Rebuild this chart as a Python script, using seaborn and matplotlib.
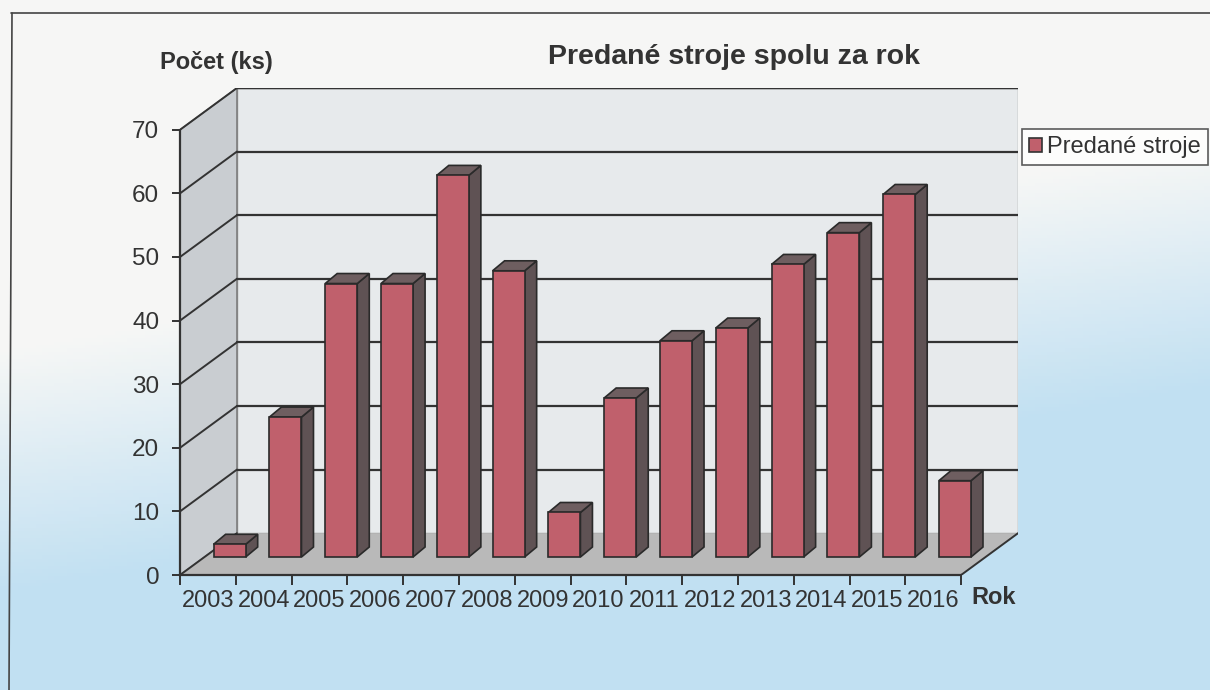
import numpy as np
import pandas as pd
import matplotlib
matplotlib.use("Agg")
import matplotlib.pyplot as plt
from matplotlib.patches import Polygon, Patch
import seaborn as sns

# data
roky = ["2003", "2004", "2005", "2006", "2007", "2008", "2009",
        "2010", "2011", "2012", "2013", "2014", "2015", "2016"]
pocet = [2, 22, 43, 43, 60, 45, 7, 25, 34, 36, 46, 51, 57, 12]
y_ticks = [0, 10, 20, 30, 40, 50, 60, 70]

df = pd.DataFrame({"rok": roky, "pocet": pocet})

sns.set_style("white")
plt.rcParams["font.family"] = ["Liberation Sans", "DejaVu Sans"]

W, H = 1210, 690
fig = plt.figure(figsize=(W / 100, H / 100), dpi=100)

# scanned page background: white fading to light blue
bg = fig.add_axes([0, 0, 1, 1], zorder=-10)
yy, xx = np.mgrid[0:1:200j, 0:1:200j]
w = np.clip((yy - 0.36 + 0.3 * (xx - 0.5)) / 0.35, 0, 1)[..., None]
top_c = np.array([0.965, 0.968, 0.962])
bot_c = np.array([0.76, 0.88, 0.95])
bg.imshow(top_c * (1 - w) + bot_c * w, extent=[0, W, H, 0], aspect="auto")
bg.plot([11, W], [13, 13], color="#444", lw=1.2)
bg.plot([12, 9], [13, H], color="#444", lw=1.2)
bg.set_xlim(0, W)
bg.set_ylim(H, 0)
bg.axis("off")

# 3D depth of the walls (in data units) and bar placement
n = len(roky)
ymax = 70
dx, dy = 1.02, 6.57          # front -> back wall offset
bx, by = 0.39, 2.83          # bars sit part way into the depth
tdx, tdy = 0.215, 1.57       # bar top/side depth

ax = fig.add_axes([180 / W, 115 / H, 838 / W, 487 / H])
ax.set_xlim(-0.5, n - 0.5 + dx)
ax.set_ylim(0, ymax + dy)
ax.patch.set_alpha(0)

x0, x1 = -0.5, n - 0.5
# back wall, side wall, floor
ax.add_patch(Polygon([(x0 + dx, dy), (x1 + dx, dy), (x1 + dx, ymax + dy), (x0 + dx, ymax + dy)],
                     closed=True, fc="#e7eaec", ec="#9a9a9a", lw=1, zorder=0.5))
ax.add_patch(Polygon([(x0, 0), (x0 + dx, dy), (x0 + dx, ymax + dy), (x0, ymax)],
                     closed=True, fc="#c9cdd1", ec="#777", lw=1, zorder=0.5))
ax.add_patch(Polygon([(x0, 0), (x1, 0), (x1 + dx, dy), (x0 + dx, dy)],
                     closed=True, fc="#b9b9b9", ec="none", zorder=0.6))
for v in y_ticks:
    if v > 0:
        ax.plot([x0 + dx, x1 + dx], [v + dy, v + dy], color="#333", lw=1.6, zorder=1)
    ax.plot([x0, x0 + dx], [v, v + dy], color="#333", lw=1.4, zorder=1)
ax.plot([x1, x1 + dx], [0, dy], color="#333", lw=1.4, zorder=1)
ax.plot([x0 + dx, x1 + dx], [ymax + dy, ymax + dy], color="#333", lw=1.6, zorder=1)

front_c = "#c0606c"
side_c = "#5f5254"
top_face = "#6e5e60"
sns.barplot(data=df, x="rok", y="pocet", color=front_c, saturation=1,
            width=0.575, edgecolor="#2a2a2a", linewidth=1.2, ax=ax, zorder=3)

for p in ax.patches:
    if not hasattr(p, "get_width") or isinstance(p, Polygon):
        continue
    p.set_x(p.get_x() + bx)
    p.set_y(by)
    px0, px1 = p.get_x(), p.get_x() + p.get_width()
    py0, py1 = p.get_y(), p.get_y() + p.get_height()
    ax.add_patch(Polygon([(px1, py0), (px1 + tdx, py0 + tdy), (px1 + tdx, py1 + tdy), (px1, py1)],
                         closed=True, fc=side_c, ec="#2a2a2a", lw=1.2, zorder=2.9))
    ax.add_patch(Polygon([(px0, py1), (px1, py1), (px1 + tdx, py1 + tdy), (px0 + tdx, py1 + tdy)],
                         closed=True, fc=top_face, ec="#2a2a2a", lw=1.2, zorder=2.9))

ax.set_xlim(-0.5, n - 0.5 + dx)
ax.set_ylim(0, ymax + dy)

# axes, ticks
for s in ["top", "right"]:
    ax.spines[s].set_visible(False)
ax.spines["left"].set_bounds(0, ymax)
ax.spines["bottom"].set_bounds(x0, x1)
for s in ["left", "bottom"]:
    ax.spines[s].set_color("#333")
    ax.spines[s].set_linewidth(1.6)
    ax.spines[s].set_zorder(4)

ax.set_yticks(y_ticks)
ax.set_yticklabels([str(v) for v in y_ticks])
ax.set_xticks(np.arange(x0, x1 + 0.01, 1))
ax.set_xticklabels([])
ax.set_xticks(range(n), minor=True)
ax.set_xticklabels(roky, minor=True)
ax.tick_params(axis="x", which="major", direction="out", length=7, width=1.4, color="#333", bottom=True)
ax.tick_params(axis="x", which="minor", length=0, pad=11, labelsize=17, labelcolor="#333")
ax.tick_params(axis="y", direction="out", length=6, width=1.4, color="#333", left=True,
               pad=9, labelsize=17.5, labelcolor="#333")
ax.set_xlabel("")
ax.set_ylabel("")

# texts
fig.text(734 / W, 1 - 57 / H, "Predané stroje spolu za rok", ha="center", va="center",
         fontsize=20.5, fontweight="bold", color="#333")
fig.text(160 / W, 1 - 62 / H, "Počet (ks)", ha="left", va="center",
         fontsize=17, fontweight="bold", color="#333")
fig.text(994 / W, 1 - 597 / H, "Rok", ha="center", va="center",
         fontsize=17, fontweight="bold", color="#333")

leg = fig.legend(handles=[Patch(fc=front_c, ec="#333", lw=1.2, label="Predané stroje")],
                 loc="upper left", bbox_to_anchor=(1022 / W, 1 - 129 / H),
                 fontsize=17, frameon=True, fancybox=False, handlelength=0.55,
                 handleheight=0.55, handletextpad=0.2, borderpad=0.3, borderaxespad=0)
leg.get_frame().set_edgecolor("#333")
leg.get_frame().set_linewidth(1.2)
leg.get_frame().set_facecolor("white")
for t in leg.get_texts():
    t.set_color("#333")

fig.savefig("out.png", dpi=100)
